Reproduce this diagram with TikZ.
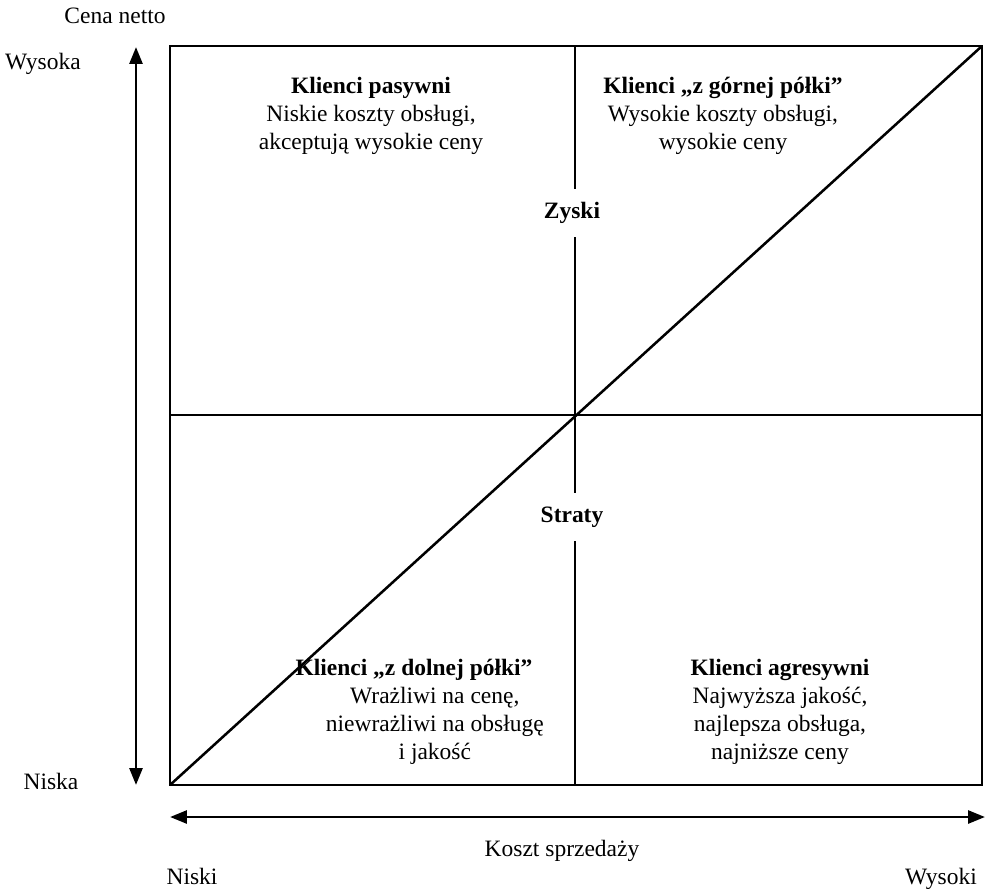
\documentclass[tikz,border=0pt]{standalone}
\usepackage{fontspec}
\setmainfont{Liberation Serif}
\usetikzlibrary{arrows.meta,positioning}
\tikzset{
  lbl/.style={inner sep=0pt,anchor=base,font=\fontsize{16.7}{19.9}\selectfont},
  ttl/.style={inner sep=0pt,anchor=base,font=\fontsize{16.7}{19.9}\selectfont\bfseries},
  txt/.style={inner sep=0pt,align=center,font=\fontsize{16.7}{19.9}\selectfont},
  wynik/.style={fill=white,inner sep=2pt,minimum height=1.2cm,font=\fontsize{16.7}{19.9}\selectfont\bfseries},
  podzial/.style={line width=1.4pt},
  osie/.style={line width=2pt,{Triangle[length=0.42cm,width=0.32cm]}-{Triangle[length=0.42cm,width=0.32cm]}}
}
\begin{document}
\begin{tikzpicture}[x=0.025cm,y=-0.025cm]
\useasboundingbox (0,0) rectangle (993,888);
% macierz
\coordinate (LG) at (170,46);
\coordinate (PD) at (982,785);
\coordinate (LD) at (170,785);
\coordinate (PG) at (982,46);
\coordinate (SG) at (575,46);
\coordinate (SD) at (575,785);
\coordinate (LS) at (170,415);
\coordinate (PS) at (982,415);
\draw[podzial] (SG) -- (SD);
\draw[podzial] (LS) -- (PS);
\draw[line width=1.8pt] (LD) -- (PG);
\draw[line width=1.9pt] (LG) rectangle (PD);
% osie
\coordinate (OG) at (136,47);
\coordinate (OD) at (136,785);
\coordinate (OL) at (170,817);
\coordinate (OP) at (985,817);
\draw[osie] (OG) -- (OD);
\draw[osie] (OL) -- (OP);
\node[lbl](cena) at (115,23){Cena netto};
\node[lbl](wysoka) at (43,69){Wysoka};
\node[lbl](niska) at (51,789){Niska};
\node[lbl](koszt) at (562,856){Koszt sprzedaży};
\node[lbl](niski) at (192,884){Niski};
\node[lbl](wysoki) at (941,884){Wysoki};
% zyski / straty
\node[wynik](zyski) at (572,213){Zyski};
\node[wynik](straty) at (572,517){Straty};
% cwiartki
\node[ttl](kTL) at (371,93){Klienci pasywni};
\node[txt,below=4.9pt of kTL](oTL){Niskie koszty obsługi,\\akceptują wysokie ceny};
\node[ttl](kTR) at (723,93){Klienci „z górnej półki”};
\node[txt,below=4.9pt of kTR](oTR){Wysokie koszty obsługi,\\wysokie ceny};
\node[ttl](kBL) at (414,675){Klienci „z dolnej półki”};
\node[txt,below=4.9pt of kBL,xshift=0.52cm](oBL){Wrażliwi na cenę,\\niewrażliwi na obsługę\\i jakość};
\node[ttl](kBR) at (780,675){Klienci agresywni};
\node[txt,below=4.9pt of kBR](oBR){Najwyższa jakość,\\najlepsza obsługa,\\najniższe ceny};
\end{tikzpicture}
\end{document}
